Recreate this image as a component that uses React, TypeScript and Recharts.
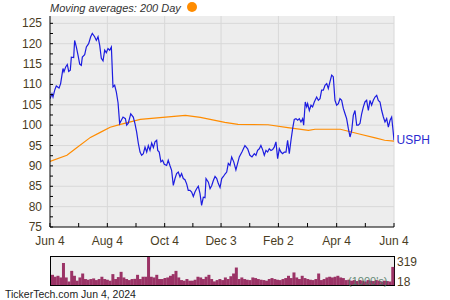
import React from 'react';
import {
  ComposedChart,
  Line,
  XAxis,
  YAxis,
  CartesianGrid,
  ReferenceLine,
  ReferenceDot,
  BarChart,
  Bar,
} from 'recharts';

// [calendar day since Jun 4 2023, close]
const priceSeries: [number, number][] = [
  [0, 106.5], [2.1, 107.7], [3.2, 106.9], [5.0, 108.6], [6.7, 109.6], [9.6, 109.1], [11.3, 110.2],
  [13.8, 113.9], [14.9, 113.1], [16.7, 114.3], [18.4, 114.9], [19.9, 113.2], [21.6, 113.5], [22.7, 116.7],
  [25.2, 116.6], [26.2, 120.8], [28.0, 119.2], [29.8, 117.2], [31.6, 115.0], [33.3, 114.7], [34.4, 116.7],
  [36.9, 117.3], [38.7, 119.2], [41.1, 120.0], [43.3, 121.7], [45.0, 122.5], [47.5, 121.7], [49.3, 120.8],
  [51.1, 121.7], [52.9, 119.6], [54.6, 116.4], [56.4, 115.8], [58.2, 118.4], [59.9, 117.8], [61.7, 118.8],
  [63.5, 118.4], [65.3, 119.2], [67.0, 109.4], [68.8, 109.8], [70.6, 108.1], [72.4, 105.5], [74.1, 100.4],
  [75.9, 101.2], [77.7, 102.0], [80.2, 101.6], [81.6, 100.0], [83.3, 100.5], [85.9, 102.8], [88.6, 102.0],
  [90.4, 100.4], [92.2, 98.3], [94.0, 95.5], [95.8, 93.4], [97.5, 92.6], [99.3, 93.0], [101.1, 94.6],
  [102.9, 93.4], [104.6, 95.0], [106.4, 93.8], [108.2, 95.6], [110.0, 94.5], [111.7, 95.9], [113.5, 96.3],
  [114.6, 93.8], [116.2, 93.4], [118.0, 91.0], [119.8, 91.4], [121.6, 90.4], [124.1, 90.1], [125.8, 91.4],
  [127.6, 90.1], [129.4, 88.9], [131.2, 85.2], [133.0, 86.9], [134.7, 88.1], [136.5, 88.5], [138.3, 87.3],
  [140.0, 88.1], [141.8, 86.9], [143.6, 86.6], [145.4, 85.6], [147.1, 84.0], [148.9, 84.0], [150.7, 83.6],
  [152.5, 82.5], [154.2, 83.6], [156.0, 84.4], [157.8, 85.0], [159.6, 83.2], [161.3, 80.3], [163.1, 82.3],
  [164.9, 82.2], [166.0, 86.9], [168.5, 86.0], [170.3, 84.4], [172.1, 85.2], [173.8, 86.4], [175.6, 87.4],
  [177.4, 86.9], [179.2, 85.6], [180.9, 84.7], [182.7, 86.9], [184.5, 87.4], [186.2, 88.0], [188.0, 88.5],
  [189.7, 90.6], [191.5, 90.1], [193.3, 92.2], [195.5, 91.0], [197.8, 89.0], [201.4, 92.2], [204.2, 93.4],
  [207.4, 95.0], [210.3, 94.2], [212.7, 92.6], [214.9, 92.2], [217.4, 93.0], [219.1, 92.6], [220.9, 93.8],
  [222.7, 94.2], [224.4, 95.0], [226.2, 94.0], [228.0, 92.6], [229.8, 93.8], [231.5, 93.4], [233.3, 94.2],
  [235.1, 93.8], [236.9, 94.0], [238.6, 94.6], [240.4, 95.9], [242.2, 91.8], [244.0, 94.2], [245.7, 93.4],
  [247.5, 93.0], [249.3, 93.4], [251.1, 93.4], [252.8, 96.3], [254.6, 93.0], [256.4, 96.3], [258.2, 99.2],
  [259.9, 101.4], [261.7, 101.6], [263.5, 101.2], [265.3, 101.6], [267.0, 100.8], [268.8, 101.6], [269.9, 100.0],
  [271.6, 105.7], [273.1, 104.5], [274.1, 105.3], [275.9, 103.6], [277.7, 104.9], [279.4, 104.5], [281.2, 105.7],
  [283.7, 106.9], [285.5, 106.1], [287.3, 106.5], [289.0, 108.6], [290.8, 108.6], [292.6, 109.8], [294.4, 110.2],
  [296.1, 109.0], [297.9, 110.7], [299.7, 112.3], [301.4, 111.9], [303.2, 106.1], [305.0, 104.9], [306.8, 105.3],
  [308.5, 106.5], [310.3, 106.1], [312.1, 104.1], [313.9, 102.8], [315.6, 101.6], [317.4, 99.2], [319.2, 97.1],
  [321.0, 98.7], [322.7, 102.4], [324.5, 103.6], [326.3, 100.0], [328.0, 100.0], [329.8, 100.4], [331.6, 102.8],
  [333.4, 104.5], [335.1, 105.7], [336.9, 106.1], [338.7, 103.6], [340.5, 106.1], [342.2, 104.9], [344.0, 106.1],
  [345.8, 106.9], [347.6, 107.3], [349.3, 106.1], [351.1, 105.7], [352.9, 103.6], [354.7, 102.0], [356.4, 100.8],
  [358.2, 101.6], [360.0, 99.5], [361.8, 101.2], [363.5, 102.0], [365.0, 98.7], [366, 96.3],
];

// 200-day moving average [day, value]
const maSeries: [number, number][] = [
  [0, 91.1], [18, 92.6], [27, 94.2], [43, 97.0], [54, 98.3], [64, 99.5], [75, 100.2], [96, 101.4],
  [120, 101.9], [144, 102.4], [160, 101.9], [186, 100.7], [200, 100.2], [232, 100.1], [253, 99.4],
  [275, 98.7], [282, 99.0], [309, 99.0], [328, 97.9], [346, 96.9], [356, 96.3], [366, 96.1],
];

// volume (1000's), roughly every two sessions
const volumes: number[] = [
  116, 94, 105, 86, 251, 86, 40, 161, 105, 49, 86, 131, 68, 60, 68, 75, 56, 68, 94, 68,
  60, 49, 124, 68, 90, 150, 86, 68, 56, 68, 70, 116, 68, 94, 94, 319, 94, 86, 116, 68,
  68, 80, 86, 105, 124, 161, 86, 56, 49, 68, 49, 49, 60, 94, 86, 68, 94, 116, 68, 41,
  56, 68, 56, 86, 68, 100, 131, 199, 68, 86, 68, 60, 56, 86, 79, 68, 60, 56, 49, 68,
  79, 68, 60, 56, 68, 79, 105, 79, 143, 86, 68, 105, 79, 68, 60, 56, 68, 131, 56, 68,
  86, 94, 86, 94, 105, 86, 79, 56, 60, 49, 56, 45, 56, 49, 40, 56, 49, 45, 56, 49,
  40, 49, 45, 40, 206,
];

const xTickDays = [0, 61, 122, 182, 243, 305, 366];
const xTickLabels = ['Jun 4', 'Aug 4', 'Oct 4', 'Dec 3', 'Feb 2', 'Apr 4', 'Jun 4'];
const xMinorDays = [30.5, 91.5, 152, 212.5, 274, 335.5];
const yMajorTicks = [75, 80, 85, 90, 95, 100, 105, 110, 115, 120, 125];
const yMinorTicks = [77.5, 82.5, 87.5, 92.5, 97.5, 102.5, 107.5, 112.5, 117.5, 122.5];
const yDomain: [number, number] = [75, 126.8];
const volumeHigh = 319;
const volumeLow = 18;
const ticker = 'USPH';
const legendText = 'Moving averages: 200 Day';
const footerText = 'TickerTech.com  Jun 4, 2024';

const priceData = priceSeries.map(([day, price]) => ({ day, price }));
const maData = maSeries.map(([day, ma]) => ({ day, ma }));
const volumeData = volumes.map((v, i) => ({ i, v }));
const allXTicks = [...xTickDays, ...xMinorDays].sort((a, b) => a - b);
const allYTicks = [...yMajorTicks, ...yMinorTicks].sort((a, b) => a - b);

const FONT = '"Liberation Sans", Arial, sans-serif';
const LABEL_COLOR = '#4a3d1f';
const GRID = '#d8d8d8';

const YTick = (props: any) => {
  const { x, y, payload } = props;
  const v = payload.value;
  const major = yMajorTicks.includes(v);
  return (
    <g>
      <line x1={x} x2={x + 3} y1={y} y2={y} stroke="#000" strokeWidth={1} />
      {major && (
        <text x={x - 8} y={y} textAnchor="end" dominantBaseline="central" fontSize={12} fontFamily={FONT} fill={LABEL_COLOR}>
          {v}
        </text>
      )}
    </g>
  );
};

const XTick = (props: any) => {
  const { x, y, payload } = props;
  const v = payload.value;
  const idx = xTickDays.indexOf(v);
  return (
    <g>
      <line x1={x} x2={x} y1={y} y2={y - 4} stroke="#000" strokeWidth={1} />
      {idx >= 0 && (
        <text x={x} y={y + 14} textAnchor="middle" dominantBaseline="central" fontSize={12} fontFamily={FONT} fill={LABEL_COLOR}>
          {xTickLabels[idx]}
        </text>
      )}
    </g>
  );
};

export default function App() {
  return (
    <div style={{ position: 'absolute', left: 0, top: 0, width: 450, height: 300, background: '#fff', fontFamily: FONT }}>
      <div style={{ position: 'absolute', left: 50, top: 0, height: 16, lineHeight: '16px', fontSize: 11, fontStyle: 'italic', color: '#333', whiteSpace: 'nowrap' }}>
        {legendText}
      </div>
      <div style={{ position: 'absolute', left: 187, top: 2, width: 10, height: 10, borderRadius: 5, background: '#ff8c00' }} />

      <div style={{ position: 'absolute', left: 0, top: 0 }}>
        <ComposedChart width={450} height={250} margin={{ top: 16, right: 56, bottom: 0, left: 8 }}>
          <CartesianGrid horizontal={false} vertical={false} fill="#ededed" />
          <XAxis
            type="number"
            dataKey="day"
            domain={[0, 366]}
            ticks={allXTicks}
            interval={0}
            tick={<XTick />}
            tickLine={false}
            tickSize={0}
            tickMargin={0}
            axisLine={{ stroke: '#000', strokeWidth: 1 }}
            height={23}
            allowDataOverflow
          />
          <YAxis
            type="number"
            domain={yDomain}
            ticks={allYTicks}
            interval={0}
            tick={<YTick />}
            tickLine={false}
            tickSize={0}
            tickMargin={0}
            axisLine={{ stroke: '#000', strokeWidth: 1 }}
            width={42}
            allowDataOverflow
          />
          {yMajorTicks.slice(1).map((v) => (
            <ReferenceLine key={'h' + v} y={v} stroke={GRID} strokeWidth={1} />
          ))}
          {xTickDays.slice(1).map((d) => (
            <ReferenceLine key={'v' + d} x={d} stroke={GRID} strokeWidth={1} />
          ))}
          <Line data={maData} dataKey="ma" type="linear" stroke="#ff8c00" strokeWidth={1.2} dot={false} isAnimationActive={false} />
          <Line data={priceData} dataKey="price" type="linear" stroke="#1c1ce0" strokeWidth={1.2} dot={false} isAnimationActive={false} />
          <ReferenceDot
            x={priceSeries[priceSeries.length - 1][0]}
            y={priceSeries[priceSeries.length - 1][1]}
            r={0.5}
            fill="none"
            stroke="none"
            label={{ value: ticker, position: 'right', offset: 2, fill: '#2a2ad0', fontSize: 12, fontFamily: FONT }}
          />
        </ComposedChart>
      </div>

      <div style={{ position: 'absolute', left: 50, top: 256, width: 345, height: 30, border: '1px solid #000', boxSizing: 'border-box', background: '#ededed' }} />
      <div style={{ position: 'absolute', left: 0, top: 257 }}>
        <BarChart width={450} height={28} data={volumeData} margin={{ top: 0, right: 56, bottom: 0, left: 51 }} barCategoryGap={0} barGap={0}>
          <XAxis dataKey="i" hide />
          <YAxis hide domain={[0, volumeHigh]} allowDataOverflow />
          <Bar dataKey="v" fill="#9b3366" isAnimationActive={false} />
        </BarChart>
      </div>
      <div style={{ position: 'absolute', left: 348, top: 273, height: 16, lineHeight: '16px', fontSize: 11, color: '#4d7a63', opacity: 0.85, whiteSpace: 'nowrap' }}>
        (1000's)
      </div>
      <div style={{ position: 'absolute', left: 397, top: 254, height: 16, lineHeight: '16px', fontSize: 12, color: LABEL_COLOR }}>
        {volumeHigh}
      </div>
      <div style={{ position: 'absolute', left: 397, top: 274, height: 16, lineHeight: '16px', fontSize: 12, color: LABEL_COLOR }}>
        {volumeLow}
      </div>
      <div style={{ position: 'absolute', left: 5, top: 287, height: 14, lineHeight: '14px', fontSize: 10.5, color: '#222', whiteSpace: 'nowrap' }}>
        {footerText}
      </div>
    </div>
  );
}
